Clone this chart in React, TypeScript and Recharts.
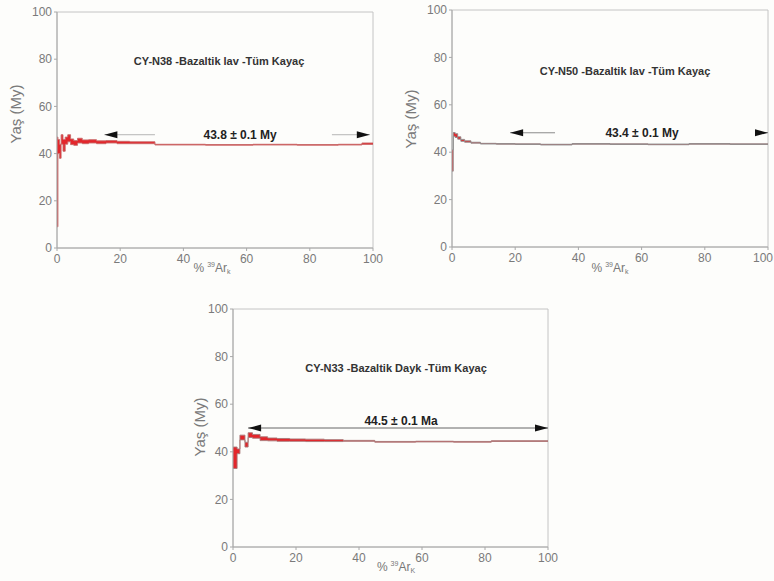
import React from "react";
import { ComposedChart, Area, XAxis, YAxis, ReferenceArea, ReferenceLine } from "recharts";

const FONT = "'Liberation Sans', Arial, sans-serif";
const axisTicks = [0, 20, 40, 60, 80, 100];

// CY-N38: step start (% 39Ar cumulative), apparent age, 1 sigma
const n38Pct = [0, 0.3, 0.8, 1.3, 1.9, 2.6, 3.4, 4.3, 5.3, 6.5, 8, 10, 12.5, 15.5, 19, 23, 31, 47, 62, 76, 89, 96.5];
const n38Age = [28, 43, 41, 46, 43.5, 45.5, 46.5, 45, 44.5, 45.5, 45, 45.2, 44.8, 45, 44.7, 44.6, 43.8, 43.7, 43.8, 43.7, 43.8, 44.2];
const n38Err = [19, 3, 3, 2, 2.5, 1.5, 1.5, 1.2, 1, 1, 0.8, 0.7, 0.6, 0.5, 0.5, 0.4, 0.15, 0.15, 0.15, 0.15, 0.15, 0.3];

// CY-N50
const n50Pct = [0, 0.4, 1.0, 1.8, 2.8, 4, 6, 9, 14, 20, 28, 38, 50, 62, 75, 88];
const n50Age = [36.5, 47.5, 47, 46, 45, 44.5, 44, 43.6, 43.5, 43.4, 43.2, 43.5, 43.4, 43.3, 43.5, 43.4];
const n50Err = [4.5, 0.8, 0.8, 0.5, 0.4, 0.3, 0.2, 0.15, 0.15, 0.15, 0.15, 0.15, 0.15, 0.15, 0.15, 0.15];

// CY-N33
const n33Pct = [0, 1.3, 2.2, 3.8, 4.8, 6.2, 8.6, 11, 14, 18, 23, 29, 35, 45, 58, 70, 82];
const n33Age = [37.5, 40.2, 46, 43, 47, 46.5, 45.5, 45.2, 45, 44.9, 44.8, 44.7, 44.6, 44.2, 44.3, 44.2, 44.5];
const n33Err = [4.5, 1, 1, 1, 1, 0.8, 0.8, 0.6, 0.6, 0.5, 0.5, 0.4, 0.2, 0.15, 0.15, 0.15, 0.15];

// plateau arrows: [from %, to %, arrow height (age)], gap for the text
const plateauText = ["43.8 ± 0.1 My", "43.4 ± 0.1 My", "44.5 ± 0.1 Ma"];
const plateauFrom = [15, 18.4, 4.8];
const plateauTo = [99, 100, 100];
const plateauY = [48, 48.2, 50];
const gapFrom = [31, 32.6, 0];
const gapTo = [87, 96, 0];

const titles = [
  "CY-N38 -Bazaltik lav -Tüm Kayaç",
  "CY-N50 -Bazaltik lav -Tüm Kayaç",
  "CY-N33 -Bazaltik Dayk -Tüm Kayaç",
];

function buildSteps(pct: number[], age: number[], err: number[]) {
  const rows = pct.map((p, i) => ({
    x: p,
    age: age[i],
    band: [age[i] - err[i], age[i] + err[i]],
  }));
  rows.push({ ...rows[rows.length - 1], x: 100 });
  return rows;
}

function arrowShape(i: number, lineColor: string, textDy: number) {
  return (p: any) => {
    const { x1, y1, x2 } = p;
    const from = plateauFrom[i];
    const to = plateauTo[i];
    const sx = (v: number) => x1 + ((v - from) / (to - from)) * (x2 - x1);
    const h = 13;
    const w = 3.5;
    const hasGap = gapTo[i] > gapFrom[i];
    return (
      <g>
        {hasGap ? (
          <>
            <line x1={x1} y1={y1} x2={sx(gapFrom[i])} y2={y1} stroke={lineColor} strokeWidth={1} />
            <line x1={sx(gapTo[i])} y1={y1} x2={x2} y2={y1} stroke={lineColor} strokeWidth={1} />
          </>
        ) : (
          <line x1={x1} y1={y1} x2={x2} y2={y1} stroke={lineColor} strokeWidth={1} />
        )}
        <polygon points={`${x1},${y1} ${x1 + h},${y1 - w} ${x1 + h},${y1 + w}`} fill="#111" />
        <polygon points={`${x2},${y1} ${x2 - h},${y1 - w} ${x2 - h},${y1 + w}`} fill="#111" />
        <text
          x={(x1 + x2) / 2 + 3}
          y={y1 + textDy}
          textAnchor="middle"
          dominantBaseline="central"
          fontFamily={FONT}
          fontSize={12}
          fontWeight="bold"
          fill="#222"
        >
          {plateauText[i]}
        </text>
      </g>
    );
  };
}

// x tick that keeps the last label inside the panel when the panel is flush with the edge
function makeXTick(endAnchorLast: boolean) {
  return (t: any) => {
    const last = endAnchorLast && t.payload.value === 100;
    return (
      <text
        x={last ? t.x + 5 : t.x}
        y={t.y}
        dy={10}
        textAnchor={last ? "end" : "middle"}
        fontFamily={FONT}
        fontSize={12}
        fill="#7a7a7a"
      >
        {t.payload.value}
      </text>
    );
  };
}

interface PanelProps {
  idx: number;
  data: { x: number; age: number; band: number[] }[];
  left: number;
  top: number;
  width: number;
  height: number;
  margin: { top: number; right: number; bottom: number; left: number };
  titlePos: [number, number];
  yLabelPos: [number, number];
  xLabelPos: [number, number];
  bandStroke: string;
  arrowLine: string;
  textDy: number;
  kCaps?: boolean;
  edgeTick?: boolean;
}

function Panel(p: PanelProps) {
  const tick = { fontSize: 12, fill: "#7a7a7a", fontFamily: FONT };
  return (
    <div style={{ position: "absolute", left: p.left, top: p.top, width: p.width, height: p.height, overflow: "hidden" }}>
      <ComposedChart width={p.width} height={p.height} data={p.data} margin={p.margin}>
        <XAxis
          type="number"
          dataKey="x"
          domain={[0, 100]}
          ticks={axisTicks}
          interval={0}
          tick={makeXTick(!!p.edgeTick)}
          tickSize={3}
          height={30}
          stroke="#a8a8a8"
        />
        <YAxis
          type="number"
          domain={[0, 100]}
          ticks={axisTicks}
          interval={0}
          tick={tick}
          tickSize={3}
          width={30}
          stroke="#a8a8a8"
        />
        <ReferenceArea x1={0} x2={100} y1={0} y2={100} fill="none" stroke="#c4c4c4" strokeWidth={1} />
        <Area
          type="stepAfter"
          dataKey="band"
          fill="#e3262b"
          fillOpacity={1}
          stroke={p.bandStroke}
          strokeWidth={0.9}
          isAnimationActive={false}
          dot={false}
          activeDot={false}
        />
        <ReferenceLine
          segment={[
            { x: plateauFrom[p.idx], y: plateauY[p.idx] },
            { x: plateauTo[p.idx], y: plateauY[p.idx] },
          ]}
          shape={arrowShape(p.idx, p.arrowLine, p.textDy)}
        />
        <text
          x={p.titlePos[0]}
          y={p.titlePos[1]}
          textAnchor="middle"
          dominantBaseline="central"
          fontFamily={FONT}
          fontSize={11}
          fontWeight="bold"
          fill="#333"
        >
          {titles[p.idx]}
        </text>
        <text
          transform={`translate(${p.yLabelPos[0]},${p.yLabelPos[1]}) rotate(-90)`}
          textAnchor="middle"
          dominantBaseline="central"
          fontFamily={FONT}
          fontSize={15}
          fill="#7a7a7a"
        >
          Yaş (My)
        </text>
        <text
          x={p.xLabelPos[0]}
          y={p.xLabelPos[1]}
          textAnchor="middle"
          dominantBaseline="central"
          fontFamily={FONT}
          fontSize={12}
          fill="#777"
        >
          %
          <tspan dx={3} dy={-4} fontSize={7}>
            39
          </tspan>
          <tspan dy={4}>Ar</tspan>
          <tspan dy={3} fontSize={7}>
            {p.kCaps ? "K" : "k"}
          </tspan>
        </text>
      </ComposedChart>
    </div>
  );
}

export default function App() {
  const d38 = buildSteps(n38Pct, n38Age, n38Err);
  const d50 = buildSteps(n50Pct, n50Age, n50Err);
  const d33 = buildSteps(n33Pct, n33Age, n33Err);
  return (
    <div style={{ position: "absolute", left: 0, top: 0, width: 774, height: 581, background: "#fdfdfb", overflow: "hidden" }}>
      <Panel
        idx={0}
        data={d38}
        left={0}
        top={0}
        width={390}
        height={290}
        margin={{ top: 12, right: 17, bottom: 12, left: 27 }}
        titlePos={[219, 61]}
        yLabelPos={[15, 114]}
        xLabelPos={[212, 268]}
        bandStroke="#c86a6a"
        arrowLine="#b5b5b5"
        textDy={0}
      />
      <Panel
        idx={1}
        data={d50}
        left={390}
        top={0}
        width={384}
        height={290}
        margin={{ top: 10, right: 6, bottom: 13, left: 32 }}
        titlePos={[235, 71]}
        yLabelPos={[20, 119]}
        xLabelPos={[220, 268]}
        bandStroke="#8c8c8c"
        arrowLine="#8a8a8a"
        textDy={0}
        edgeTick
      />
      <Panel
        idx={2}
        data={d33}
        left={190}
        top={290}
        width={390}
        height={291}
        margin={{ top: 19, right: 32, bottom: 4, left: 13 }}
        titlePos={[206, 78]}
        yLabelPos={[9, 137]}
        xLabelPos={[206, 277]}
        bandStroke="#a87878"
        arrowLine="#666"
        textDy={-7}
        kCaps
      />
    </div>
  );
}
